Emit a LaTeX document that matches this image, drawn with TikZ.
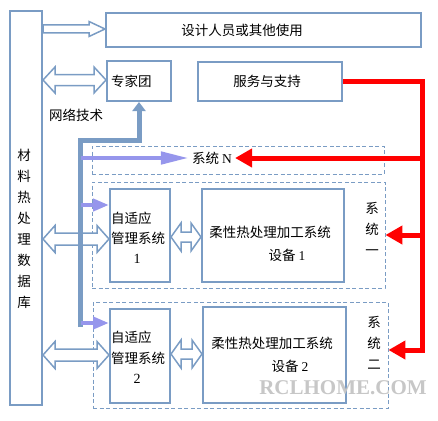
\documentclass[tikz,border=0pt]{standalone}
\usepackage{fontspec}
\setmainfont{Noto Sans CJK SC}
\newfontfamily\latinserif{Liberation Serif}
\usetikzlibrary{arrows.meta,calc}
\definecolor{bx}{RGB}{122,156,196}
\definecolor{pp}{RGB}{150,150,236}
\definecolor{rd}{RGB}{255,0,0}
\newcommand\hdbl[5]{%
\draw[hollow] let \p1=(#1), \p2=(#2) in (\x1,\y1) -- ({\x1+#3pt},{\y1+#4pt}) -- ({\x1+#3pt},{\y1+#5pt}) -- ({\x2-#3pt},{\y1+#5pt}) -- ({\x2-#3pt},{\y1+#4pt}) -- (\x2,\y1) -- ({\x2-#3pt},{\y1-#4pt}) -- ({\x2-#3pt},{\y1-#5pt}) -- ({\x1+#3pt},{\y1-#5pt}) -- ({\x1+#3pt},{\y1-#4pt}) -- cycle;}
\newcommand\hsgl[5]{%
\draw[hollow] let \p1=(#1), \p2=(#2) in ({\x1},{\y1+#5pt}) -- ({\x2-#3pt},{\y1+#5pt}) -- ({\x2-#3pt},{\y1+#4pt}) -- (\x2,\y1) -- ({\x2-#3pt},{\y1-#4pt}) -- ({\x2-#3pt},{\y1-#5pt}) -- ({\x1},{\y1-#5pt}) -- cycle;}
\begin{document}
\begin{tikzpicture}[x=1pt,y=-1pt,
  box/.style={draw=bx, line width=2pt, fill=white, inner sep=0pt},
  dbox/.style={draw=bx, line width=0.9pt, dash pattern=on 4pt off 2.5pt, inner sep=0pt},
  txt/.style={inner sep=0pt, font=\fontsize{13.5}{15}\selectfont},
  vtxt/.style={inner sep=0pt, align=center, font=\fontsize{13.5}{21}\selectfont},
  num/.style={inner sep=0pt, font=\latinserif\fontsize{14}{15}\selectfont},
  hollow/.style={draw=bx, line width=1.5pt, fill=white, line join=miter},
  pipe/.style={draw=bx, line width=5pt, line join=miter, -{Triangle[length=9pt,width=13pt]}},
  purp/.style={draw=pp, line width=4.5pt, -{Triangle[length=#1,width=12pt]}},
  redl/.style={draw=rd, line width=5pt, line join=miter},
  reda/.style={draw=rd, line width=5pt, -{Triangle[length=17pt,width=18pt]}}]
\useasboundingbox (0,0) rectangle (438,420);
% dashed system frames
\node[dbox, minimum width=292pt, minimum height=28pt] (dashN) at (238,160) {};
\node[dbox, minimum width=293pt, minimum height=106pt] (dash1) at (238.5,235) {};
\node[dbox, minimum width=295pt, minimum height=106pt] (dash2) at (240.5,355) {};
% boxes
\node[box, minimum width=32pt, minimum height=394pt] (db) at (26,208) {};
\node[box, minimum width=315pt, minimum height=34pt] (top) at (263.5,30) {};
\node[box, minimum width=64pt, minimum height=40pt] (zj) at (139,81) {};
\node[box, minimum width=144pt, minimum height=39pt] (fw) at (270,81.5) {};
\node[box, minimum width=60pt, minimum height=93pt] (ad1) at (140,235.5) {};
\node[box, minimum width=142pt, minimum height=93pt] (rx1) at (273,235.5) {};
\node[box, minimum width=60pt, minimum height=94pt] (ad2) at (140,356) {};
\node[box, minimum width=143pt, minimum height=96pt] (rx2) at (274.5,355) {};
% texts
\node[vtxt] (dbt) at (24,229) {材\\料\\热\\处\\理\\数\\据\\库};
\node[txt] (topt) at (242,30) {设计人员或其他使用};
\node[txt, anchor=west] (zjt) at (111,81) {专家团};
\node[txt] (net) at (76,115) {网络技术};
\node[txt] (fwt) at (267,81) {服务与支持};
\node[txt] (sysN) at (212,158) {系统 {\latinserif N}};
\node[txt, anchor=west] (ad1a) at (111,218) {自适应};
\node[txt, anchor=west] (ad1b) at (111,238) {管理系统};
\node[num] (ad1c) at (137,259) {1};
\node[txt] (rx1a) at (270,232) {柔性热处理加工系统};
\node[txt] (rx1b) at (287,255) {设备 {\latinserif 1}};
\node[vtxt] (sys1) at (372,229) {系\\统\\一};
\node[txt, anchor=west] (ad2a) at (111,337) {自适应};
\node[txt, anchor=west] (ad2b) at (111,358) {管理系统};
\node[num] (ad2c) at (137,379) {2};
\node[txt] (rx2a) at (272,343) {柔性热处理加工系统};
\node[txt] (rx2b) at (290,366) {设备 {\latinserif 2}};
\node[vtxt] (sys2) at (374,343) {系\\统\\二};
\node[inner sep=0pt, text=black!22, font=\latinserif\bfseries\fontsize{21}{22}\selectfont] (wm) at (343,388) {RCLHOME.COM};
% hollow arrows
\hsgl{db.east |- 0,29}{top.west |- 0,29}{16}{7.5}{4}
\hdbl{db.east |- 0,80}{zj.west |- 0,80}{12}{13}{5.5}
\hdbl{db.east |- 0,239}{ad1.west |- 0,239}{12}{13.5}{6}
\hdbl{db.east |- 0,355}{ad2.west |- 0,355}{12}{13.5}{6}
\hdbl{ad1.east |- 0,237}{rx1.west |- 0,237}{10}{14}{5}
\hdbl{ad2.east |- 0,354}{rx2.west |- 0,354}{10}{14}{5}
% network pipe
\coordinate (pv) at (80.5,140);
\coordinate (pb) at (80.5,327);
\draw[pipe] (pb) -- (pv) -- (zj.south |- pv) -- (zj.south);
\draw[purp=28pt] (pv |- sysN) -- ([xshift=-3pt]sysN.west);
\draw[purp=16pt] (pv |- 0,205) -- (ad1.west |- 0,205);
\draw[purp=16pt] (pv |- 0,323) -- (ad2.west |- 0,323);
% support lines
\coordinate (rc) at (422,350);
\draw[redl] (fw.east) -| (rc) -- ($(dash2.east |- rc)+(16,0)$);
\draw[reda] ($(dash2.east |- rc)+(18,0)$) -- (dash2.east |- rc);
\draw[reda] (rc |- sysN) -- ([xshift=3pt]sysN.east);
\draw[reda] (rc |- dash1.east) -- (dash1.east);
\end{tikzpicture}
\end{document}
